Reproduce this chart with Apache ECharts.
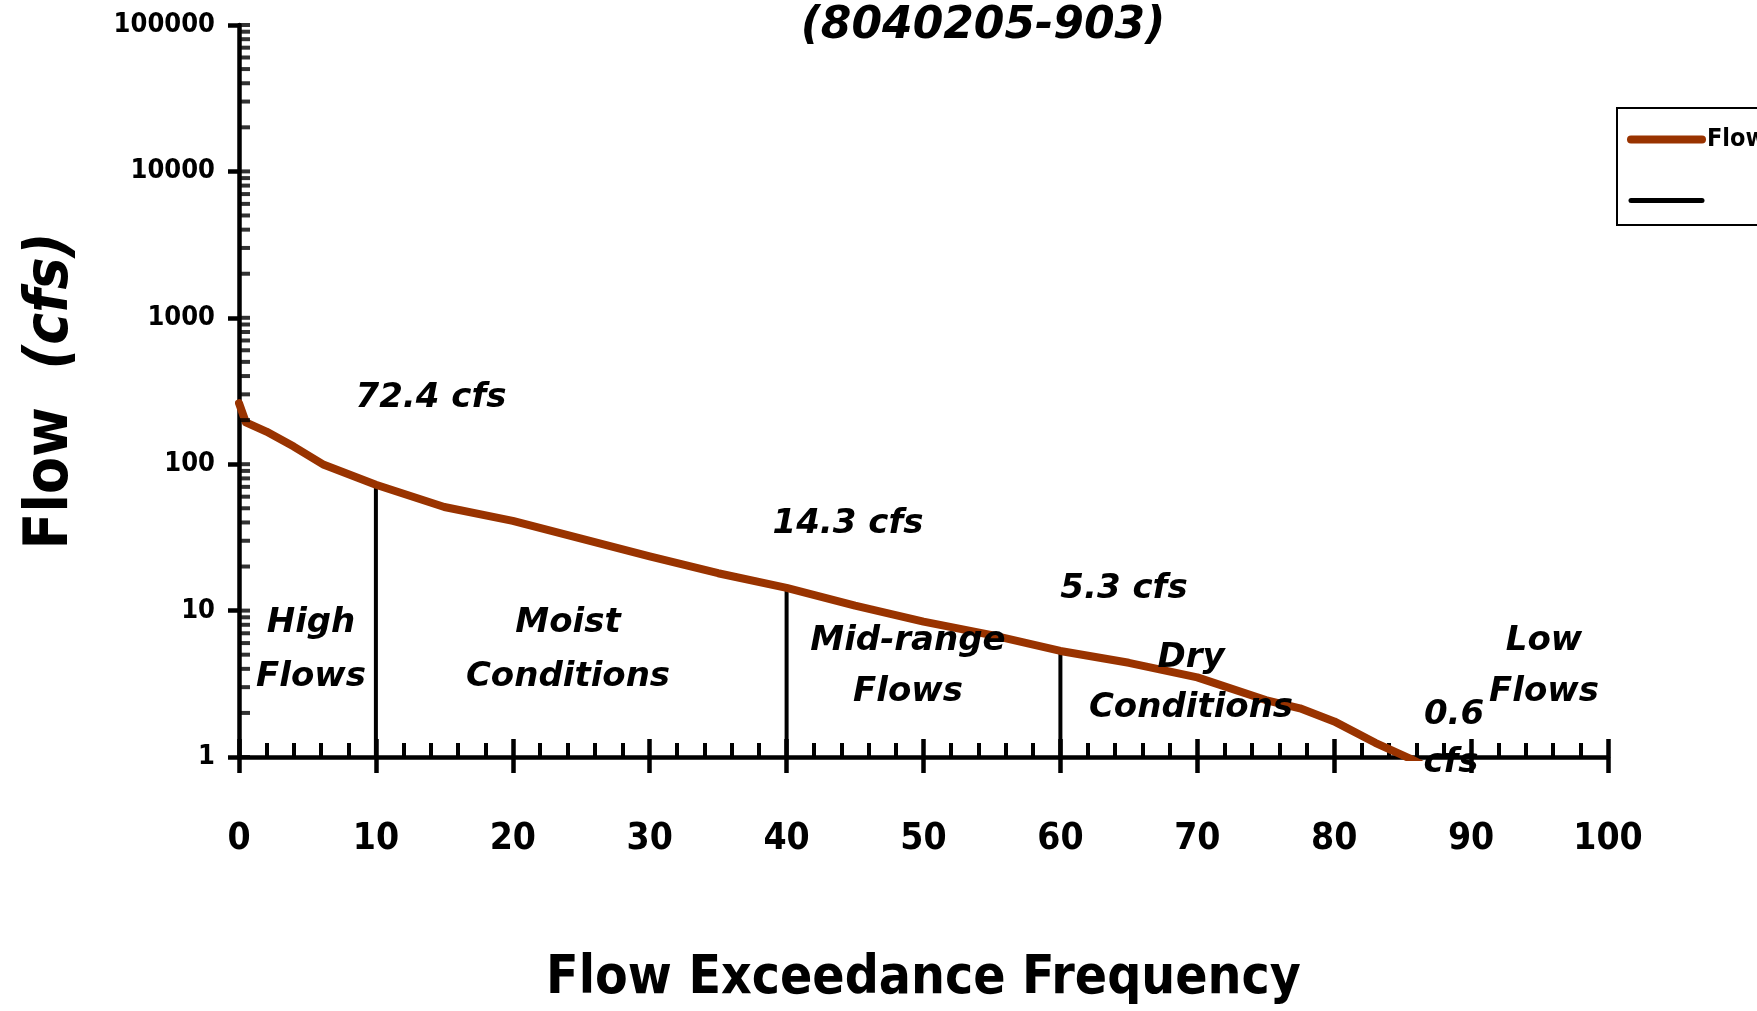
<!DOCTYPE html>
<html>
<head>
<meta charset="utf-8">
<script src="https://cdn.jsdelivr.net/npm/echarts@6/dist/echarts.min.js"></script>
<style>
html,body{margin:0;padding:0;background:#fff;}
#chart{width:1757px;height:1011px;}
</style>
</head>
<body>
<div id="chart"></div>
<script>
// ---- data ----
const exceedance = [0, 0.5, 2, 4, 6.2, 10, 15, 20, 25, 30, 35, 40, 45, 50, 55, 60, 65, 70, 75, 77.5, 80, 83, 85.5, 90];
const flow = [261, 193, 167, 132, 99, 72.4, 51, 41, 31, 23.5, 18, 14.3, 10.8, 8.4, 6.8, 5.3, 4.4, 3.5, 2.45, 2.15, 1.75, 1.25, 0.98, 0.6];
const dividerX = [10, 40, 60];
const dividerFlow = [72.4, 14.3, 5.3];
const yTickValues = [1,2,3,4,5,6,7,8,9,10,20,30,40,50,60,70,80,90,100,200,300,400,500,600,700,800,900,
  1000,2000,3000,4000,5000,6000,7000,8000,9000,10000,20000,30000,40000,50000,60000,70000,80000,90000,100000];
const titleText = '(8040205-903)';
const xName = 'Flow Exceedance Frequency';
const flowLabels = ['72.4 cfs', '14.3 cfs', '5.3 cfs'];
const regionLabels = ['High\nFlows', 'Moist\nConditions', 'Mid-range\nFlows', 'Dry\nConditions', 'Low\nFlows'];

const narrow = '"Liberation Sans Narrow","DejaVu Sans Condensed","Liberation Sans",sans-serif';
const annFont = 'italic bold 34px "DejaVu Sans", sans-serif';

const chart = echarts.init(document.getElementById('chart'));

function txt(text, x, y, font, lh) {
  return { type: 'text', x: x, y: y, z: 100,
    style: { text: text, font: font, fill: '#000', align: 'center', verticalAlign: 'middle', lineHeight: lh || 40 } };
}

const series = [{
  name: 'Flow', type: 'line', xAxisIndex: 0, yAxisIndex: 0,
  data: exceedance.map((x, i) => [x, flow[i]]),
  showSymbol: false, symbol: 'none', smooth: false,
  lineStyle: { color: '#993300', width: 8, cap: 'round', join: 'round' },
  itemStyle: { color: '#993300' }, z: 3
}];
dividerX.forEach((x, i) => {
  series.push({
    name: ' ', type: 'line', xAxisIndex: 0, yAxisIndex: 0,
    data: [[x, 1], [x, dividerFlow[i]]],
    showSymbol: false, symbol: 'none',
    lineStyle: { color: '#000', width: 4 }, itemStyle: { color: '#000' }, z: 2
  });
});
series.push({
  name: 'ticks', type: 'scatter', xAxisIndex: 0, yAxisIndex: 0, clip: false, silent: true,
  data: yTickValues.map(v => [0, v]),
  symbol: 'rect', symbolSize: [11, 4], symbolOffset: [5.5, 0],
  itemStyle: { color: '#000' }, z: 4
});

const option = {
  animation: false,
  backgroundColor: '#fff',
  grid: { left: 239, right: 149, top: 25, bottom: 254, containLabel: false },
  legend: {
    data: [
      { name: 'Flow', lineStyle: { width: 8, color: '#993300', cap: 'round' }, itemStyle: { opacity: 0 } },
      { name: ' ', lineStyle: { width: 5, color: '#000', cap: 'round' }, itemStyle: { opacity: 0 } }
    ],
    orient: 'vertical', left: 1617, top: 108,
    padding: [19, 120, 12, 10], itemGap: 36, itemWidth: 71, itemHeight: 14,
    borderColor: '#000', borderWidth: 2,
    textStyle: { fontFamily: narrow, fontWeight: 'bold', fontSize: 25, color: '#000' }
  },
  xAxis: [{
    type: 'value', min: 0, max: 100, interval: 10, position: 'bottom',
    name: xName, nameLocation: 'middle', nameGap: 196,
    nameTextStyle: { fontFamily: narrow, fontWeight: 'bold', fontSize: 53, color: '#000' },
    axisLine: { show: true, onZero: false, lineStyle: { color: '#000', width: 4.5 } },
    axisTick: { show: true, inside: true, length: 18, lineStyle: { color: '#000', width: 4.5 } },
    minorTick: { show: true, splitNumber: 5, length: 14, lineStyle: { color: '#000', width: 4 } },
    axisLabel: { margin: 64, fontFamily: narrow, fontWeight: 'bold', fontSize: 37, color: '#000' },
    splitLine: { show: false }
  }, {
    type: 'value', min: 0, max: 100, interval: 10, position: 'bottom', offset: 0,
    axisLine: { show: false },
    axisTick: { show: true, inside: false, length: 16, lineStyle: { color: '#000', width: 4.5 } },
    axisLabel: { show: false }, splitLine: { show: false }
  }],
  yAxis: [{
    type: 'log', logBase: 10, min: 1, max: 100000, position: 'left',
    name: 'Flow  {i|(cfs)}', nameLocation: 'middle', nameGap: 158, nameRotate: 90,
    nameTextStyle: { fontFamily: narrow, fontWeight: 'bold', fontSize: 60, color: '#000',
      rich: { i: { fontFamily: narrow, fontWeight: 'bold', fontStyle: 'italic', fontSize: 60, color: '#000' } } },
    axisLine: { show: true, onZero: false, lineStyle: { color: '#000', width: 4.5 } },
    axisTick: { show: true, inside: false, length: 11, lineStyle: { color: '#000', width: 4.5 } },
    axisLabel: { margin: 24, fontFamily: narrow, fontWeight: 'bold', fontSize: 27, color: '#000',
      formatter: v => String(Math.round(v)) },
    splitLine: { show: false }
  }],
  series: series,
  graphic: [
    txt(titleText, 983, 27, 'italic bold 44px "DejaVu Sans", sans-serif'),
    txt(flowLabels[0], 431, 398, annFont),
    txt(flowLabels[1], 848, 524, annFont),
    txt(flowLabels[2], 1124, 589, annFont),
    txt('0.6', 1454, 715, annFont),
    txt('cfs', 1451, 763, annFont),
    txt(regionLabels[0], 311, 650, annFont, 54),
    txt(regionLabels[1], 568, 650, annFont, 54),
    txt(regionLabels[2], 908, 667, annFont, 51),
    txt(regionLabels[3], 1191, 683, annFont, 50),
    txt(regionLabels[4], 1544, 667, annFont, 51)
  ]
};
chart.setOption(option);
</script>
</body>
</html>
